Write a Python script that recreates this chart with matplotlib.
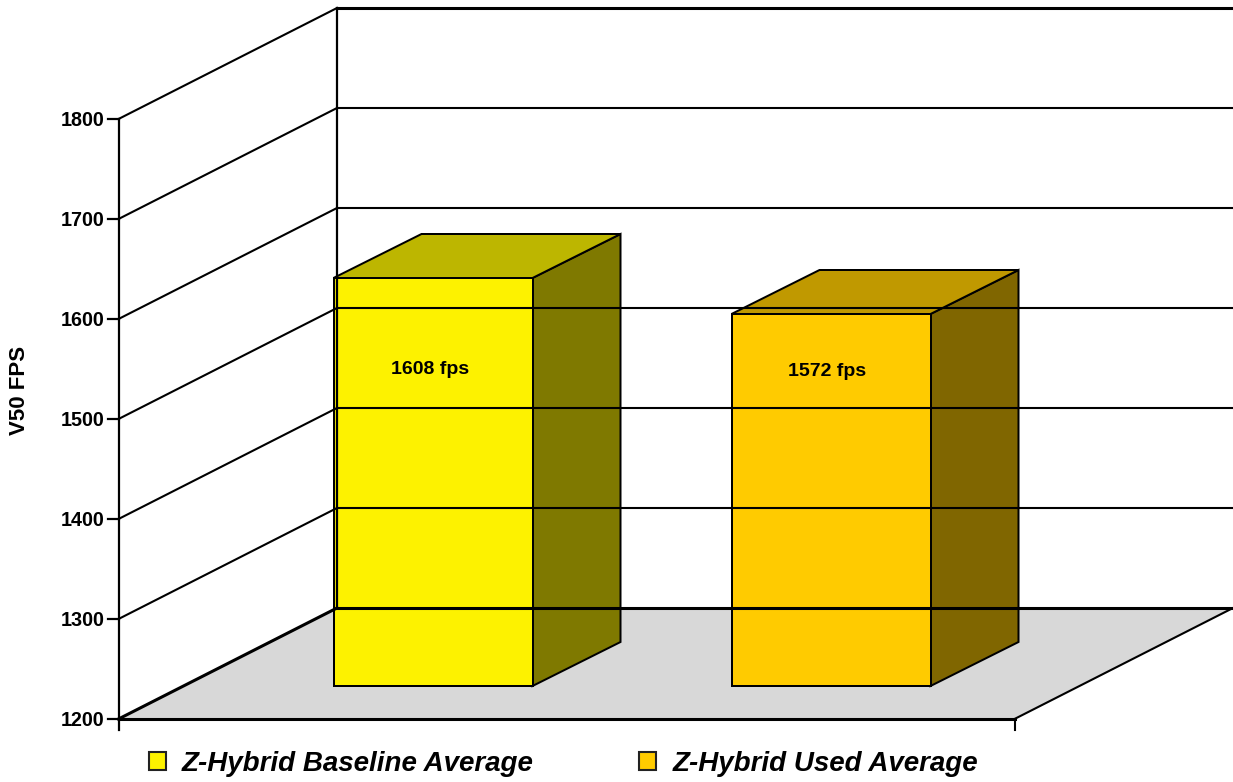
import matplotlib
matplotlib.use('Agg')
import matplotlib.pyplot as plt
from matplotlib.patches import Patch

categories = ['Z-Hybrid Baseline Average', 'Z-Hybrid Used Average']
values = [1608, 1572]
bar_labels = ['1608 fps', '1572 fps']
front_colors = ['#FDF200', '#FFCB00']
top_colors = ['#BDB600', '#C09900']
side_colors = ['#7F7900', '#806600']
y_ticks = [1200, 1300, 1400, 1500, 1600, 1700, 1800]

plt.rcParams['font.family'] = ['Liberation Sans', 'DejaVu Sans']

# one x unit is one pixel, one fps is one pixel too
X_LEFT, X_RIGHT = 118.5, 1014.5
DEPTH_X, DEPTH_Y = 218.5, 111
BAR_X = [333.5, 731.5]
BAR_W = 199
BAR_BASE = 1233
BAR_LIFT = 33
BAR_DX, BAR_DY = 88, 44
LABEL_POS = [(430, 1550), (827, 1548)]


def poly(ax, xs, ys, color, lw=2 * 0.72):
    ax.fill(xs, ys, facecolor=color, edgecolor='black', linewidth=lw, joinstyle='miter')


fig = plt.figure(figsize=(12.33, 7.82), dpi=100)
ax = fig.add_axes([0, 0, 1, 1])
ax.set_xlim(0, 1233)
ax.set_ylim(1137, 1919)
ax.axis('off')

lo, hi = y_ticks[0], y_ticks[-1]

# floor
ax.fill([X_LEFT, X_RIGHT, X_RIGHT + DEPTH_X, X_LEFT + DEPTH_X],
        [lo, lo, lo + DEPTH_Y, lo + DEPTH_Y], color='#D8D8D8', linewidth=0)
ax.plot([X_RIGHT, X_RIGHT + DEPTH_X], [lo, lo + DEPTH_Y], color='black', lw=1.5)

# walls and grid
for t in y_ticks:
    w = 2.2 if t in (lo, hi) else 1.5
    ax.plot([X_LEFT, X_LEFT + DEPTH_X], [t, t + DEPTH_Y], color='black', lw=w if t == lo else 1.5)
    ax.plot([X_LEFT + DEPTH_X, X_RIGHT + DEPTH_X], [t + DEPTH_Y, t + DEPTH_Y], color='black', lw=w)
    ax.plot([X_LEFT - 11, X_LEFT], [t, t], color='black', lw=1.6)
    ax.text(X_LEFT - 14, t - 1, str(t), ha='right', va='center', fontsize=14.2, fontweight='bold')

ax.plot([X_LEFT, X_LEFT], [lo - 11, hi], color='black', lw=1.6)
ax.plot([X_LEFT + DEPTH_X] * 2, [lo + DEPTH_Y, hi + DEPTH_Y], color='black', lw=1.6)
ax.plot([X_LEFT, X_RIGHT], [lo, lo], color='black', lw=2.2)
ax.plot([X_RIGHT, X_RIGHT], [lo - 11, lo], color='black', lw=1.5)

# bars
for i, v in enumerate(values):
    x0, x1 = BAR_X[i], BAR_X[i] + BAR_W
    top = v + BAR_LIFT
    poly(ax, [x1, x1 + BAR_DX, x1 + BAR_DX, x1],
         [BAR_BASE, BAR_BASE + BAR_DY, top + BAR_DY, top], side_colors[i])
    poly(ax, [x0, x1, x1 + BAR_DX, x0 + BAR_DX],
         [top, top, top + BAR_DY, top + BAR_DY], top_colors[i])
    poly(ax, [x0, x1, x1, x0], [BAR_BASE, BAR_BASE, top, top], front_colors[i])
    ax.text(LABEL_POS[i][0], LABEL_POS[i][1], bar_labels[i], ha='center', va='center',
            fontsize=14, fontweight='bold')

ax.text(20, 1529, 'V50 FPS', rotation=90, ha='center', va='center',
        fontsize=16, fontweight='bold')

handles = [Patch(facecolor=c, edgecolor='#222222', linewidth=1.5) for c in front_colors]
ax.legend(handles, categories, ncol=2, frameon=False, loc='lower left',
          bbox_to_anchor=(149, 1142), bbox_transform=ax.transData,
          borderpad=0, borderaxespad=0, handlelength=0.61, handleheight=0.61,
          handletextpad=0.58, columnspacing=3.8,
          prop={'size': 20, 'weight': 'bold', 'style': 'italic'})

fig.savefig('out.png', dpi=100)
plt.close(fig)
